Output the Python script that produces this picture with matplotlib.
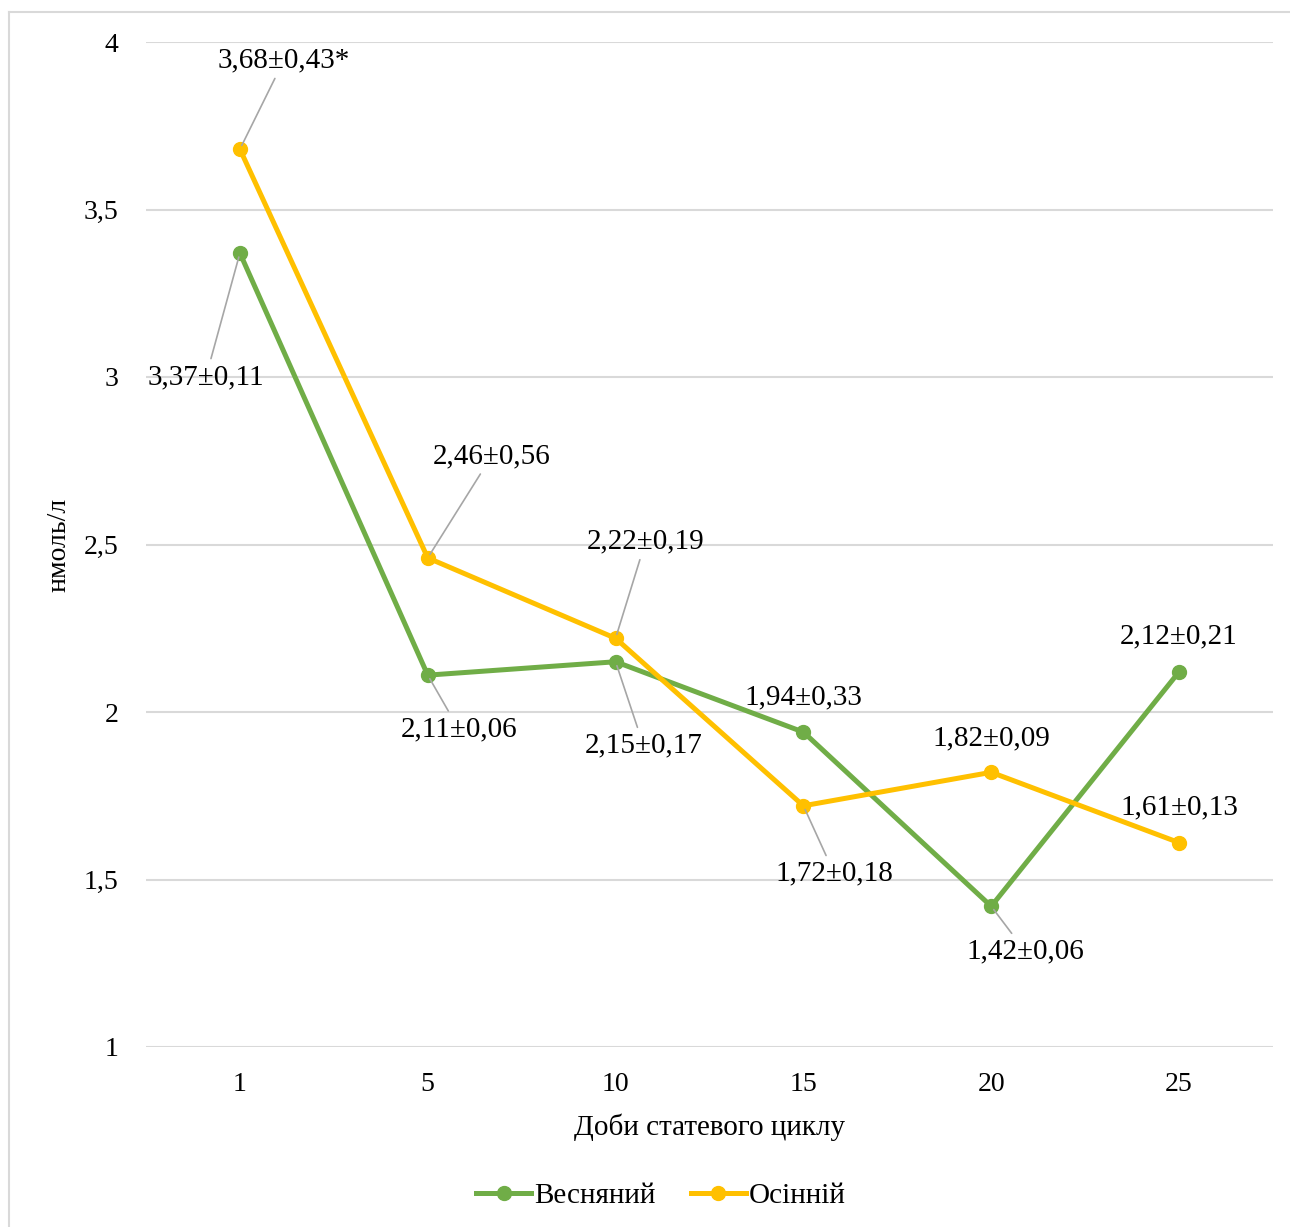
import matplotlib.pyplot as plt
from matplotlib.lines import Line2D

plt.rcParams['font.family'] = ['Liberation Serif', 'DejaVu Serif']

days = ['1', '5', '10', '15', '20', '25']
spring = [3.37, 2.11, 2.15, 1.94, 1.42, 2.12]
autumn = [3.68, 2.46, 2.22, 1.72, 1.82, 1.61]
spring_labels = ['3,37±0,11', '2,11±0,06', '2,15±0,17', '1,94±0,33', '1,42±0,06', '2,12±0,21']
autumn_labels = ['3,68±0,43*', '2,46±0,56', '2,22±0,19', '1,72±0,18', '1,82±0,09', '1,61±0,13']

# label offsets in pixels (dx, dy) and whether a leader line is drawn
spring_off = [(-34, -124, True), (31, -54, True), (28, -84, True), (0, 35, False), (34, -45, True), (0, 35, False)]
autumn_off = [(44, 89, True), (64, 102, True), (30, 97, True), (31, -68, True), (0, 34, False), (0, 35, False)]

green = '#70ad47'
yellow = '#ffc000'

fig = plt.figure(figsize=(12.9, 12.27), dpi=100)
ax = fig.add_axes([146 / 1290, 1 - 1047 / 1227, 1127 / 1290, 1005 / 1227])

x = list(range(len(days)))
ax.plot(x, spring, color=green, lw=3.6, marker='o', ms=10, label='Весняний', zorder=3)
ax.plot(x, autumn, color=yellow, lw=3.6, marker='o', ms=10, label='Осінній', zorder=3)

for vals, labs, offs in [(spring, spring_labels, spring_off), (autumn, autumn_labels, autumn_off)]:
    for i, (v, lab, (dx, dy, lead)) in enumerate(zip(vals, labs, offs)):
        props = dict(arrowstyle='-', color='#a6a6a6', lw=1.2, shrinkA=2, shrinkB=3) if lead else None
        ax.annotate(lab, xy=(i, v), xytext=(dx, dy), textcoords='offset pixels',
                    ha='center', va='center', fontsize=21, arrowprops=props, zorder=4)

ax.set_xlim(-0.5, 5.5)
ax.set_ylim(1, 4)
ax.set_yticks([1, 1.5, 2, 2.5, 3, 3.5, 4])
ax.set_yticklabels(['1', '1,5', '2', '2,5', '3', '3,5', '4'])
ax.set_xticks(x)
ax.set_xticklabels(days)
ax.tick_params(length=0, labelsize=20, pad=18)
ax.tick_params(axis='y', pad=20)
ax.grid(axis='y', color='#d9d9d9', lw=1.5)
ax.set_axisbelow(True)
for s in ax.spines.values():
    s.set_visible(False)

ax.set_xlabel('Доби статевого циклу', fontsize=21, labelpad=12)
ax.set_ylabel('нмоль/л', fontsize=20, labelpad=9)

ax.legend(loc='center', bbox_to_anchor=(0.457, -0.148), ncol=2, frameon=False, fontsize=21,
          handlelength=1.9, columnspacing=1.2, handletextpad=0.1)

# outer chart border (top and left visible)
fig.add_artist(Line2D([9 / 1290, 1], [1 - 12 / 1227] * 2, color='#d9d9d9', lw=1.5))
fig.add_artist(Line2D([9 / 1290] * 2, [0, 1 - 12 / 1227], color='#d9d9d9', lw=1.5))

fig.savefig('out.png', dpi=100)
